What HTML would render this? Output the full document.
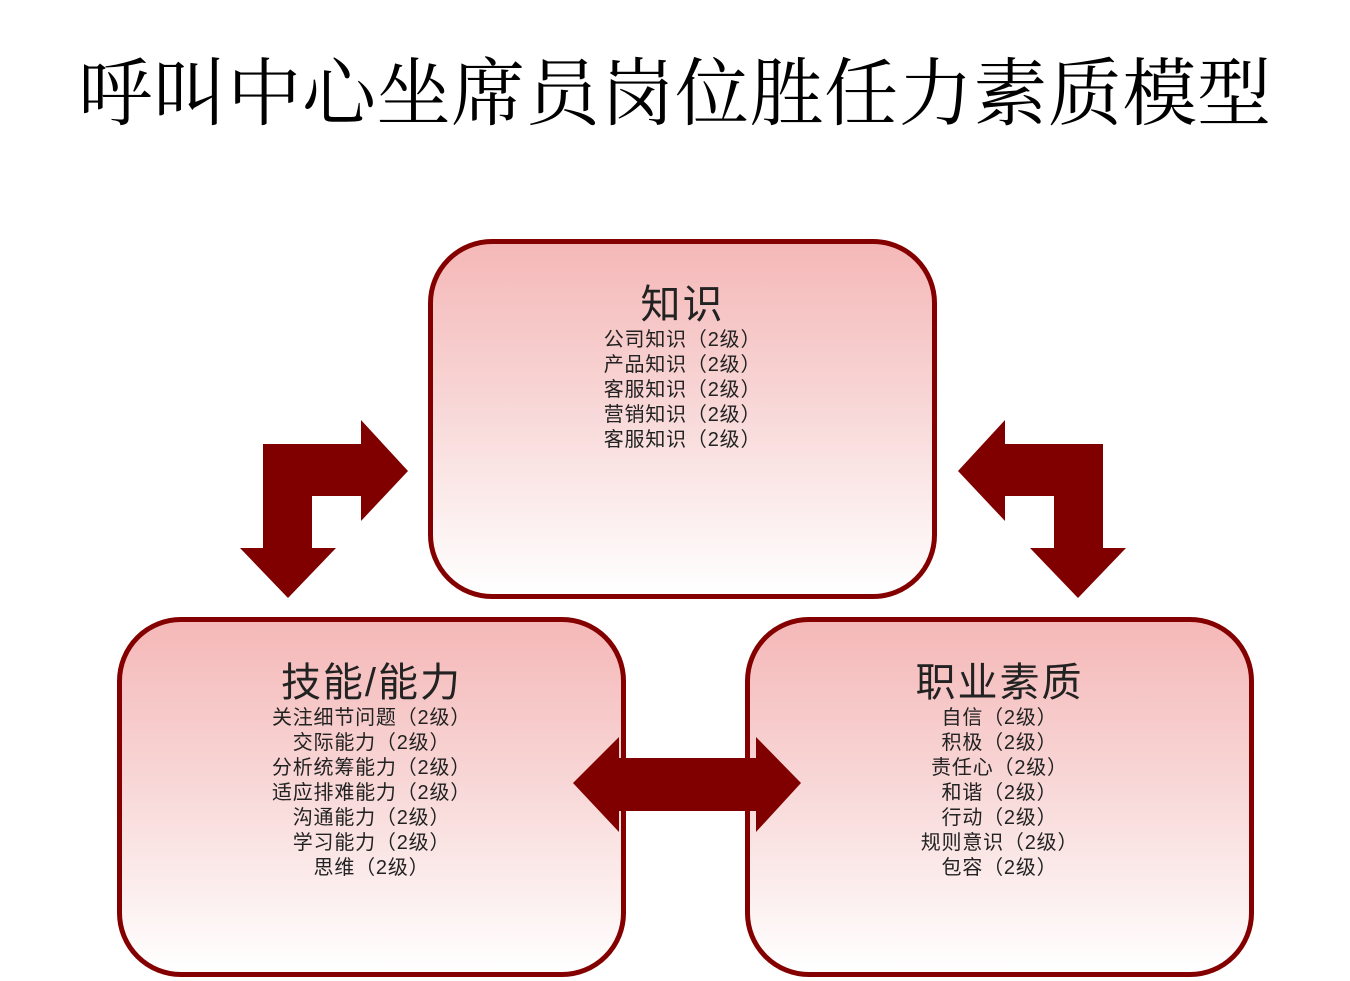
<!DOCTYPE html>
<html><head><meta charset="utf-8"><style>
body{margin:0;width:1350px;height:981px;background:#fff;position:relative;overflow:hidden;font-family:"Liberation Sans","Noto Sans CJK SC",sans-serif}
.t{position:absolute;left:0;width:1350px;top:50px;text-align:center;font-family:"Liberation Serif","Noto Serif CJK SC",serif;font-size:74px;line-height:90px;color:#000;letter-spacing:0.6px}
.b{position:absolute;width:499px;height:350px;border:5px solid #840000;border-radius:64px;background:linear-gradient(#f5b8b8,#f8d6d6 45%,#fff);text-align:center;color:#222;box-sizing:content-box}
.b h{display:block;font-size:40px;line-height:46px;margin-top:38px;letter-spacing:2px}
.b p{margin:0;font-size:20px;line-height:25px;letter-spacing:0.8px}
svg{position:absolute;left:0;top:0}
</style></head><body>
<div class="t">呼叫中心坐席员岗位胜任力素质模型</div>
<div class="b" style="left:428px;top:239px"><h>知识</h><p>公司知识（2级）</p><p>产品知识（2级）</p><p>客服知识（2级）</p><p>营销知识（2级）</p><p>客服知识（2级）</p></div>
<div class="b" style="left:117px;top:617px"><h>技能/能力</h><p>关注细节问题（2级）</p><p>交际能力（2级）</p><p>分析统筹能力（2级）</p><p>适应排难能力（2级）</p><p>沟通能力（2级）</p><p>学习能力（2级）</p><p>思维（2级）</p></div>
<div class="b" style="left:745px;top:617px"><h>职业素质</h><p>自信（2级）</p><p>积极（2级）</p><p>责任心（2级）</p><p>和谐（2级）</p><p>行动（2级）</p><p>规则意识（2级）</p><p>包容（2级）</p></div>
<svg width="1350" height="981">
<g fill="#800000">
<polygon points="408,471 361,420 361,444 263,444 263,548 240,548 288,598 336,548 312,548 312,496 361,496 361,521"/>
<polygon points="958,471 1005,420 1005,444 1103,444 1103,548 1126,548 1078,598 1030,548 1054,548 1054,496 1005,496 1005,521"/>
<polygon points="573,783 619,737 619,758 756,758 756,737 801,783 756,832 756,811 619,811 619,832"/>
</g></svg>
</body></html>
